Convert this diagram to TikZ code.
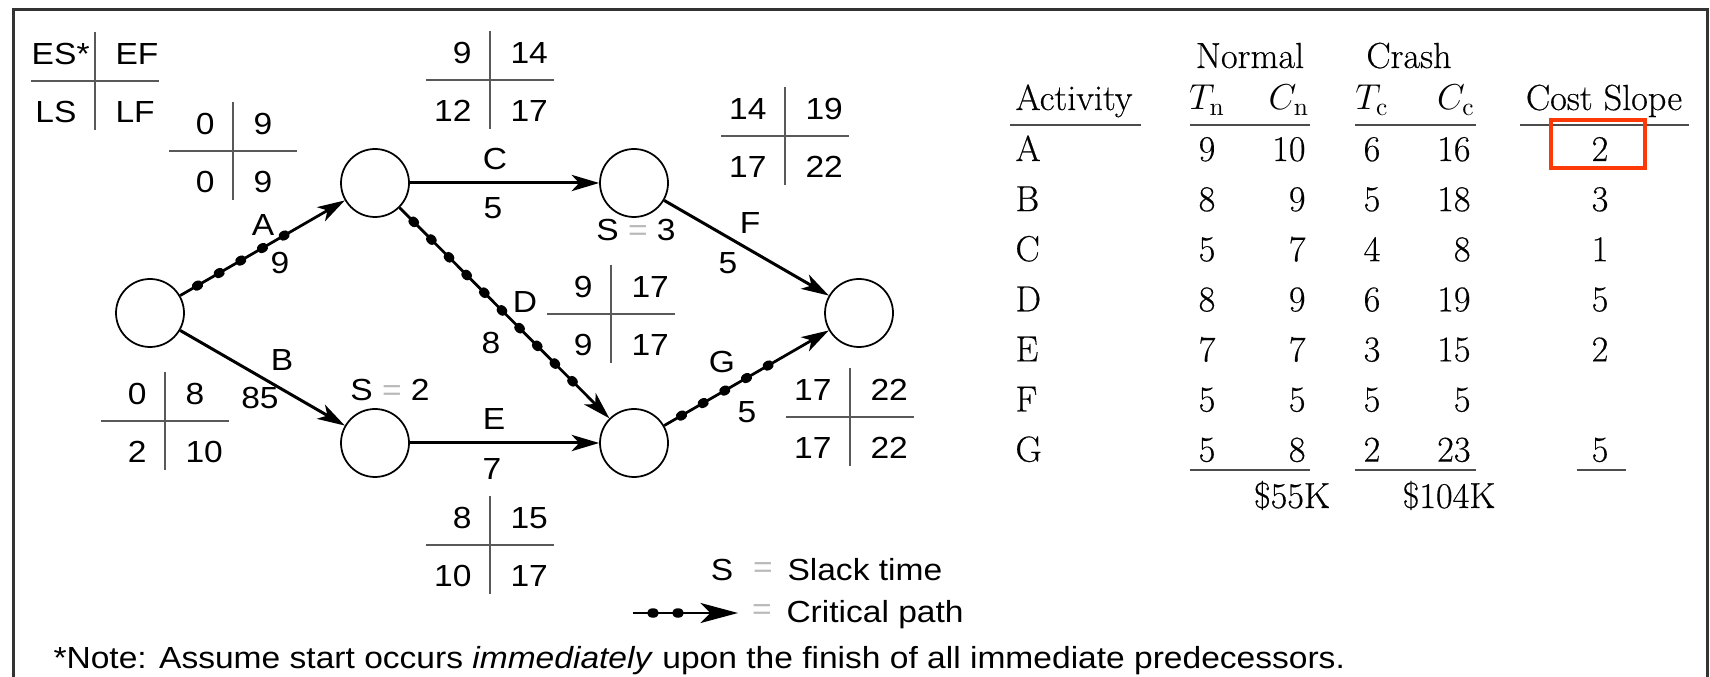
\documentclass[tikz,border=0pt]{standalone}
\usepackage{fontspec}
\newfontfamily\netfont[FakeStretch=1.1]{Liberation Sans}
\newfontfamily\tabfont[FakeBold=0.4]{Latin Modern Roman}
\usetikzlibrary{positioning,arrows.meta,decorations.markings}
\definecolor{hilite}{RGB}{252,58,8}
\definecolor{rulegray}{gray}{0.3}

\tikzset{
  event/.style = {draw, circle, line width=0.7pt, minimum size=27.2pt, inner sep=0pt},
  activity/.style = {line width=1.2pt, -{Stealth[length=11pt,width=6.5pt,inset=3pt]}},
  critical/.style = {line width=1.1pt, -{Stealth[length=11pt,width=6.5pt,inset=3pt]},
    postaction={decorate},
    decoration={markings, mark=between positions 8pt and -18pt step 10pt with {\fill (0,0) ellipse (2.4pt and 1.9pt);}}},
  lbl/.style = {font=\netfont\fontsize{12.2}{14.6}\selectfont, inner sep=0pt},
  tab/.style = {font=\tabfont\fontsize{14.5}{17}\selectfont, inner sep=0pt, anchor=base},
  crossline/.style = {line width=0.8pt, gray!70!black},
  rule/.style = {line width=1pt, rulegray},
}

% ES EF / LS LF cross: name, x, y, then the four times
\newcommand{\timecross}[7]{%
  \coordinate (#1) at (#2,#3);
  \draw[crossline] ([yshift=19.6pt]#1) -- ([yshift=-19.6pt]#1);
  \draw[crossline] ([xshift=-25.6pt]#1) -- ([xshift=25.6pt]#1);
  \node[lbl, anchor=east] (#1-es) at ([xshift=-7.2pt,yshift=10.8pt]#1) {#4};
  \node[lbl, anchor=west] (#1-ef) at ([xshift=8pt,yshift=10.8pt]#1) {#5};
  \node[lbl, anchor=east] (#1-ls) at ([xshift=-7.2pt,yshift=-12.4pt]#1) {#6};
  \node[lbl, anchor=west] (#1-lf) at ([xshift=8pt,yshift=-12.4pt]#1) {#7};
}
\newcommand{\eqsign}{{\color{gray!55}=}}

\begin{document}
\begin{tikzpicture}[x=0.4pt, y=-0.4pt]
\useasboundingbox (0,0) rectangle (1710,677);
% frame, open at the bottom
\draw[line width=1.2pt, black!80] (13,677) -- (13,10) -- (1707,10) -- (1707,677);

% Events
\node[event] (n1) at (150,313) {};
\node[event] (n2) at (375,183) {};
\node[event] (n3) at (634,183) {};
\node[event] (n4) at (375,443) {};
\node[event] (n5) at (634,443) {};
\node[event] (n6) at (859,313) {};

% Activities
\draw[critical] (n1) -- (n2);
\draw[activity] (n1) -- (n4);
\draw[activity] (n2) -- (n3);
\draw[critical] (n2) -- (n5);
\draw[activity] (n4) -- (n5);
\draw[activity] (n3) -- (n6);
\draw[critical] (n5) -- (n6);

% Activity names and times
\node[lbl] (a-name) at (263,225) {A};
\node[lbl] (a-time) at (280,263) {9};
\node[lbl] (b-name) at (282,360) {B};
\node[lbl] (b-time) at (260,398) {85};
\node[lbl] (c-name) at (495,159) {C};
\node[lbl] (c-time) at (493,208) {5};
\node[lbl] (d-name) at (525,302) {D};
\node[lbl] (d-time) at (491,343) {8};
\node[lbl] (e-name) at (494,419) {E};
\node[lbl] (e-time) at (492,469) {7};
\node[lbl] (f-name) at (750,223) {F};
\node[lbl] (f-time) at (728,263) {5};
\node[lbl] (g-name) at (722,362) {G};
\node[lbl] (g-time) at (747,412) {5};

% Slack
\node[lbl] (slack-c) at (636,230) {S \eqsign{} 3};
\node[lbl] (slack-b) at (390,390) {S \eqsign{} 2};

% Start and finish times
\timecross{key}{95}{81}{ES\rlap{*}}{EF}{LS}{LF}
\timecross{ta}{233}{151}{0}{9}{0}{9}
\timecross{tc}{490}{80}{9}{14}{12}{17}
\timecross{tf}{785}{136}{14}{19}{17}{22}
\timecross{td}{611}{314}{9}{17}{9}{17}
\timecross{tg}{850}{417}{17}{22}{17}{22}
\timecross{tb}{165}{421}{0}{8}{2}{10}
\timecross{te}{490}{545}{8}{15}{10}{17}

% Legend
\node[lbl] (leg-s) at (722,570) {S};
\node[lbl] (leg-eq1) at (763,570) {\eqsign};
\node[lbl, anchor=base west] (leg-slack) at (787,580) {Slack time};
\coordinate (cp-start) at (633,613);
\coordinate (cp-end) at (738,613);
\draw[critical, -{Stealth[length=15pt,width=8pt,inset=4pt]}] (cp-start) -- (cp-end);
\node[lbl] (leg-eq2) at (762,612) {\eqsign};
\node[lbl, anchor=base west] (leg-crit) at (786,622) {Critical path};

\node[lbl, anchor=base west] (note) at (53,668) {*Note: Assume start occurs \textit{immediately} upon the finish of all immediate predecessors.};

% Crash table
\node[tab] (normal) at (1250,68) {Normal};
\node[tab] (crash) at (1409,68) {Crash};
\node[tab, anchor=base west] (activity) at (1015,110) {Activity};
\node[tab] (tn-head) at (1207,110) {$T_{\mathrm{n}}$};
\node[tab] (cn-head) at (1289,110) {$C_{\mathrm{n}}$};
\node[tab] (tc-head) at (1372,110) {$T_{\mathrm{c}}$};
\node[tab] (cc-head) at (1456,110) {$C_{\mathrm{c}}$};
\node[tab] (slope-head) at (1604,110) {Cost Slope};
\draw[rule] (1010,125) -- (1141,125);
\draw[rule] (1190,125) -- (1310,125);
\draw[rule] (1355,125) -- (1476,125);
\draw[rule] (1520,125) -- (1689,125);

\foreach \act/\tn/\cn/\tc/\cc/\cs [count=\i from 0] in
  {A/9/10/6/16/2, B/8/9/5/18/3, C/5/7/4/8/1, D/8/9/6/19/5, E/7/7/3/15/2, F/5/5/5/5/{}, G/5/8/2/23/5}{
  \pgfmathsetmacro\yb{161+50.1*\i}
  \node[tab, anchor=base west] (act-\act) at (1015,\yb) {\act};
  \node[tab] (tn-\act) at (1207,\yb) {\tn};
  \node[tab, anchor=base east] (cn-\act) at (1306,\yb) {\cn};
  \node[tab] (tc-\act) at (1372,\yb) {\tc};
  \node[tab, anchor=base east] (cc-\act) at (1471,\yb) {\cc};
  \node[tab] (cs-\act) at (1600,\yb) {\cs};
}
\draw[rule] (1190,470) -- (1310,470);
\draw[rule] (1355,470) -- (1476,470);
\draw[rule] (1577,470) -- (1626,470);
\node[tab] (total-n) at (1292,508) {\$55K};
\node[tab] (total-c) at (1449,508) {\$104K};

% highlighted slope
\node[draw=hilite, line width=1.6pt, minimum width=37.8pt, minimum height=19pt, inner sep=0pt] (slope-mark) at (1598,144) {};
\end{tikzpicture}
\end{document}
